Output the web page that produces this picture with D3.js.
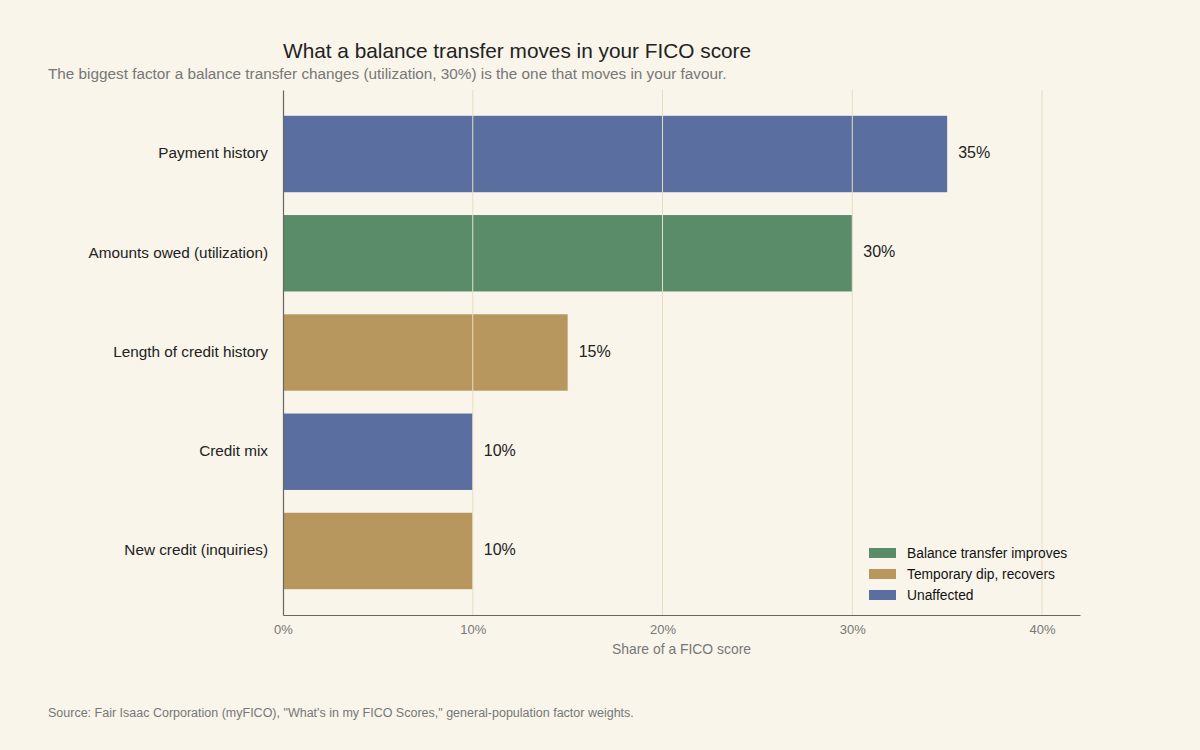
<!DOCTYPE html>
<html><head><meta charset="utf-8">
<script src="https://cdn.jsdelivr.net/npm/d3@7"></script>
<style>body{margin:0;background:#f9f5ea;font-family:"Liberation Sans",Arial,sans-serif;}</style>
</head><body>
<svg id="c" width="1200" height="750"></svg>
<script>
const categories = ["Payment history","Amounts owed (utilization)","Length of credit history","Credit mix","New credit (inquiries)"];
const values = [35,30,15,10,10];
const effects = ["Unaffected","Balance transfer improves","Temporary dip, recovers","Unaffected","Temporary dip, recovers"];
const legendItems = ["Balance transfer improves","Temporary dip, recovers","Unaffected"];
const xTicks = [0,10,20,30,40];
const colors = {"Balance transfer improves":"#5b8c6a","Temporary dip, recovers":"#b8975f","Unaffected":"#5a6fa0"};

const svg = d3.select("#c");
svg.append("rect").attr("width",1200).attr("height",750).attr("fill","#f9f5ea");
const m = {l:283, r:1080, t:90, b:615};
const x = d3.scaleLinear().domain([0,42]).range([m.l,m.r]);
const y = d3.scaleBand().domain(categories).range([m.t,m.b]).paddingInner(0.23).paddingOuter(0.26);

// bars
svg.selectAll("rect.bar").data(categories).join("rect").attr("class","bar")
  .attr("x",x(0)).attr("y",d=>y(d)).attr("height",y.bandwidth())
  .attr("width",(d,i)=>x(values[i])-x(0)).attr("fill",(d,i)=>colors[effects[i]]);

// grid on top
svg.selectAll("line.grid").data(xTicks.filter(t=>t>0)).join("line").attr("class","grid")
  .attr("x1",d=>x(d)).attr("x2",d=>x(d)).attr("y1",m.t).attr("y2",m.b)
  .attr("stroke","#e6dec6").attr("stroke-width",1);

// axes
const xa = svg.append("g").attr("transform",`translate(0,${m.b})`)
  .call(d3.axisBottom(x).tickValues(xTicks).tickFormat(d=>d+"%").tickSize(0).tickPadding(10));
xa.select(".domain").attr("stroke","#666").attr("stroke-width",1.2);
xa.selectAll("text").attr("fill","#777").attr("font-size",13).attr("font-family","Liberation Sans, Arial, sans-serif");
const ya = svg.append("g").attr("transform",`translate(${m.l},0)`)
  .call(d3.axisLeft(y).tickSize(0).tickPadding(15));
ya.select(".domain").attr("stroke","#666").attr("stroke-width",1.2);
ya.selectAll("text").attr("fill","#222").attr("font-size",15.3).attr("dy","0.28em").attr("font-family","Liberation Sans, Arial, sans-serif");

// value labels
svg.selectAll("text.val").data(categories).join("text").attr("class","val")
  .attr("x",(d,i)=>x(values[i])+11).attr("y",d=>y(d)+y.bandwidth()/2).attr("dy","0.25em")
  .attr("font-size",16).attr("fill","#222").text((d,i)=>values[i]+"%");

// titles
svg.append("text").attr("x",283).attr("y",58).attr("font-size",20.8).attr("fill","#222").text("What a balance transfer moves in your FICO score");
svg.append("text").attr("x",48).attr("y",79).attr("font-size",15.3).attr("fill","#777").text("The biggest factor a balance transfer changes (utilization, 30%) is the one that moves in your favour.");
svg.append("text").attr("x",(m.l+m.r)/2).attr("y",654).attr("text-anchor","middle").attr("font-size",13.9).attr("fill","#777").text("Share of a FICO score");
svg.append("text").attr("x",48).attr("y",717).attr("font-size",12.5).attr("fill","#777").text("Source: Fair Isaac Corporation (myFICO), \"What's in my FICO Scores,\" general-population factor weights.");

// legend
const lg = svg.append("g").attr("transform","translate(869,548)");
legendItems.forEach((k,i)=>{
  lg.append("rect").attr("x",0).attr("y",i*21).attr("width",27).attr("height",10).attr("fill",colors[k]);
  lg.append("text").attr("x",38).attr("y",i*21+5).attr("dy","0.35em").attr("font-size",13.8).attr("fill","#111").text(k);
});
</script>
</body></html>
